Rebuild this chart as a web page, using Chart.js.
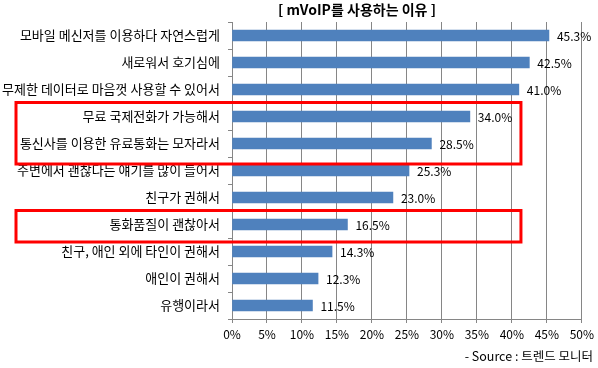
<!DOCTYPE html>
<html>
<head>
<meta charset="utf-8">
<script src="https://cdn.jsdelivr.net/npm/chart.js@4"></script>
<style>
  html, body { margin: 0; padding: 0; background: #fff; }
  #wrap { width: 598px; height: 368px; position: relative; }
</style>
</head>
<body>
<div id="wrap"><canvas id="chart" width="598" height="368"></canvas></div>
<script>
var TITLE = "[ mVoIP를 사용하는 이유 ]";
var SOURCE = "- Source : 트렌드 모니터";

var reasons = [
  "모바일 메신저를 이용하다 자연스럽게",
  "새로워서 호기심에",
  "무제한 데이터로 마음껏 사용할 수 있어서",
  "무료 국제전화가 가능해서",
  "통신사를 이용한 유료통화는 모자라서",
  "주변에서 괜찮다는 얘기를 많이 들어서",
  "친구가 권해서",
  "통화품질이 괜찮아서",
  "친구, 애인 외에 타인이 권해서",
  "애인이 권해서",
  "유행이라서"
];
var shares = [45.3, 42.5, 41.0, 34.0, 28.5, 25.3, 23.0, 16.5, 14.3, 12.3, 11.5];

// highlighted groups: [first index, last index, right edge value]
var highlights = [[3, 4, 41.3], [7, 7, 41.3]];

var FONT = "'Noto Sans CJK KR', 'Noto Sans', sans-serif";
var GRID = "#868686";

var extras = {
  id: "extras",
  afterDatasetsDraw: function (chart) {
    var ctx = chart.ctx;
    var meta = chart.getDatasetMeta(0);
    ctx.save();
    ctx.font = "12px " + FONT;
    ctx.fillStyle = "#000";
    ctx.textBaseline = "middle";
    ctx.textAlign = "left";
    meta.data.forEach(function (bar, i) {
      ctx.fillText(shares[i].toFixed(1) + "%", bar.x + 8, bar.y + 1);
    });
    ctx.restore();
  },
  afterDraw: function (chart) {
    var ctx = chart.ctx;
    var x = chart.scales.x, y = chart.scales.y;
    ctx.save();
    // title
    ctx.font = "bold 14px " + FONT;
    ctx.fillStyle = "#000";
    ctx.textAlign = "center";
    ctx.textBaseline = "middle";
    ctx.fillText(TITLE, 357, 10);
    // source
    ctx.font = "12.5px " + FONT;
    ctx.textAlign = "right";
    ctx.fillText(SOURCE, 593, 356);
    // red highlight boxes
    ctx.strokeStyle = "#FF0000";
    ctx.lineWidth = 3;
    highlights.forEach(function (h) {
      var top = y.getPixelForValue(h[0]) - 14;
      var bottom = y.getPixelForValue(h[1]) + (h[0] == h[1] ? 17.5 : 20.5);
      var right = x.getPixelForValue(h[2]);
      ctx.strokeRect(16, top, right - 16, bottom - top);
    });
    ctx.restore();
  }
};

new Chart(document.getElementById("chart"), {
  type: "bar",
  data: {
    labels: reasons,
    datasets: [{
      data: shares,
      backgroundColor: "#4F81BD",
      barThickness: 11
    }]
  },
  plugins: [extras],
  options: {
    indexAxis: "y",
    responsive: false,
    animation: false,
    layout: { padding: { left: 0, right: 16, top: 22, bottom: 19 } },
    plugins: {
      legend: { display: false },
      tooltip: { enabled: false },
      title: { display: false }
    },
    scales: {
      x: {
        min: 0,
        max: 50,
        ticks: {
          stepSize: 5,
          color: "#000",
          font: { family: FONT, size: 12 },
          padding: 4,
          maxRotation: 0,
          callback: function (v) { return v + "%"; }
        },
        grid: { color: GRID, lineWidth: 1, tickLength: 4 },
        border: { color: GRID },
        afterFit: function (s) { s.height = 30; }
      },
      y: {
        ticks: {
          color: "#000",
          font: { family: FONT, size: 13 },
          padding: 8,
          autoSkip: false
        },
        grid: { drawOnChartArea: false, color: GRID, tickLength: 4, offset: true },
        border: { color: GRID },
        afterFit: function (s) { s.width = 232; }
      }
    }
  }
});
</script>
</body>
</html>
